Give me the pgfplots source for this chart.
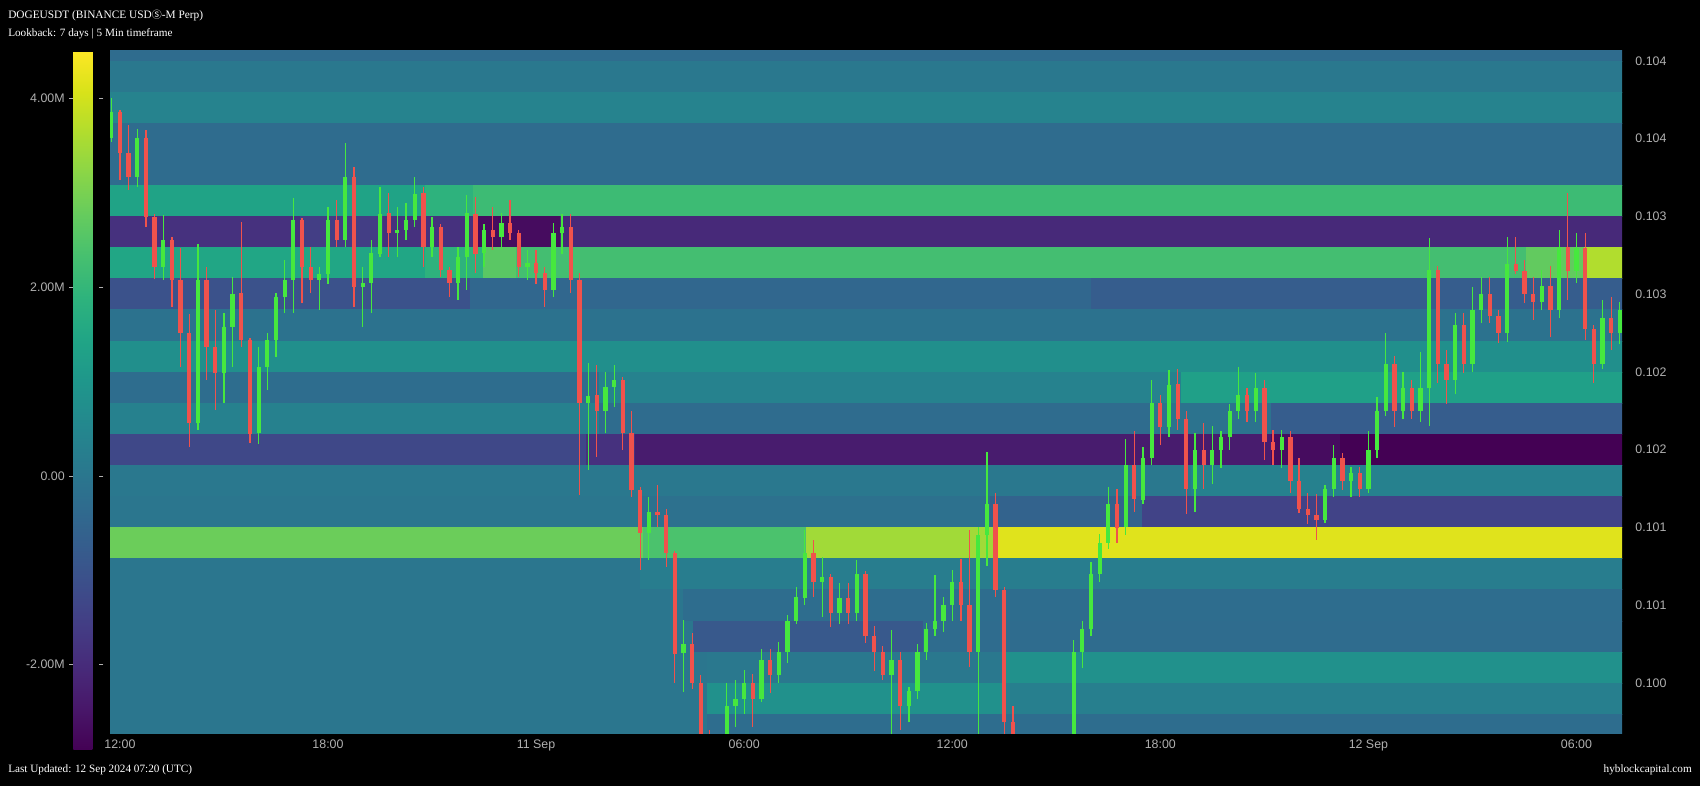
\documentclass[border=0pt]{standalone}
\usepackage{fontspec}
\setmainfont{Liberation Serif}
\newfontfamily\arialf{Liberation Sans}
\newfontfamily\cjk{Noto Sans CJK SC}
\usepackage{pgfplots}
\usepackage{pgfplotstable}
\pgfplotsset{compat=1.18}
\definecolor{cgreen}{HTML}{46E83E}
\definecolor{cred}{HTML}{F0524C}
\definecolor{tickgray}{HTML}{B0B0B0}

\begin{document}
% heatmap cells: 4 corners per rectangle, m = liquidation value (M)
\pgfplotstableread[row sep=\\]{
x y m\\
11.6 0.1040 -0.312\\ 55.4 0.1040 -0.312\\ 55.4 0.1042 -0.312\\ 11.6 0.1042 -0.312\\
11.6 0.1038 0.059\\ 55.4 0.1038 0.059\\ 55.4 0.1040 0.059\\ 11.6 0.1040 0.059\\
11.6 0.1036 0.392\\ 55.4 0.1036 0.392\\ 55.4 0.1038 0.392\\ 11.6 0.1038 0.392\\
11.6 0.1032 -0.312\\ 55.4 0.1032 -0.312\\ 55.4 0.1036 -0.312\\ 11.6 0.1036 -0.312\\
11.6 0.1030 1.393\\ 20.80 0.1030 1.393\\ 20.80 0.1032 1.393\\ 11.6 0.1032 1.393\\
20.80 0.1030 1.875\\ 22.18 0.1030 1.875\\ 22.18 0.1032 1.875\\ 20.80 0.1032 1.875\\
22.18 0.1030 2.171\\ 55.4 0.1030 2.171\\ 55.4 0.1032 2.171\\ 22.18 0.1032 2.171\\
11.6 0.1028 -1.868\\ 17.19 0.1028 -1.868\\ 17.19 0.1030 -1.868\\ 11.6 0.1030 -1.868\\
17.19 0.1028 -1.572\\ 19.59 0.1028 -1.572\\ 19.59 0.1030 -1.572\\ 17.19 0.1030 -1.572\\
19.59 0.1028 -1.868\\ 22.30 0.1028 -1.868\\ 22.30 0.1030 -1.868\\ 19.59 0.1030 -1.868\\
22.30 0.1028 -2.684\\ 24.71 0.1028 -2.684\\ 24.71 0.1030 -2.684\\ 22.30 0.1030 -2.684\\
24.71 0.1028 -2.054\\ 55.4 0.1028 -2.054\\ 55.4 0.1030 -2.054\\ 24.71 0.1030 -2.054\\
11.6 0.1026 1.467\\ 20.80 0.1026 1.467\\ 20.80 0.1028 1.467\\ 11.6 0.1028 1.467\\
20.80 0.1026 1.875\\ 22.48 0.1026 1.875\\ 22.48 0.1028 1.875\\ 20.80 0.1028 1.875\\
22.48 0.1026 2.616\\ 23.42 0.1026 2.616\\ 23.42 0.1028 2.616\\ 22.48 0.1028 2.616\\
23.42 0.1026 2.283\\ 52.56 0.1026 2.283\\ 52.56 0.1028 2.283\\ 23.42 0.1028 2.283\\
52.56 0.1026 2.727\\ 54.22 0.1026 2.727\\ 54.22 0.1028 2.727\\ 52.56 0.1028 2.727\\
54.22 0.1026 3.654\\ 55.4 0.1026 3.654\\ 55.4 0.1028 3.654\\ 54.22 0.1028 3.654\\
11.6 0.1024 -1.054\\ 22.10 0.1024 -1.054\\ 22.10 0.1026 -1.054\\ 11.6 0.1026 -1.054\\
22.10 0.1024 -0.460\\ 40.00 0.1024 -0.460\\ 40.00 0.1026 -0.460\\ 22.10 0.1026 -0.460\\
40.00 0.1024 -0.757\\ 55.4 0.1024 -0.757\\ 55.4 0.1026 -0.757\\ 40.00 0.1026 -0.757\\
11.6 0.1022 -0.127\\ 55.4 0.1022 -0.127\\ 55.4 0.1024 -0.127\\ 11.6 0.1024 -0.127\\
11.6 0.1020 0.763\\ 55.4 0.1020 0.763\\ 55.4 0.1022 0.763\\ 11.6 0.1022 0.763\\
11.6 0.1018 -0.275\\ 25.83 0.1018 -0.275\\ 25.83 0.1020 -0.275\\ 11.6 0.1020 -0.275\\
25.83 0.1018 0.355\\ 42.59 0.1018 0.355\\ 42.59 0.1020 0.355\\ 25.83 0.1020 0.355\\
42.59 0.1018 1.282\\ 55.4 0.1018 1.282\\ 55.4 0.1020 1.282\\ 42.59 0.1020 1.282\\
11.6 0.1016 0.318\\ 25.83 0.1016 0.318\\ 25.83 0.1018 0.318\\ 11.6 0.1018 0.318\\
25.83 0.1016 -0.312\\ 41.70 0.1016 -0.312\\ 41.70 0.1018 -0.312\\ 25.83 0.1018 -0.312\\
41.70 0.1016 -0.090\\ 45.20 0.1016 -0.090\\ 45.20 0.1018 -0.090\\ 41.70 0.1018 -0.090\\
45.20 0.1016 -0.757\\ 55.4 0.1016 -0.757\\ 55.4 0.1018 -0.757\\ 45.20 0.1018 -0.757\\
11.6 0.1014 -1.312\\ 25.44 0.1014 -1.312\\ 25.44 0.1016 -1.312\\ 11.6 0.1016 -1.312\\
25.44 0.1014 -1.868\\ 26.85 0.1014 -1.868\\ 26.85 0.1016 -1.868\\ 25.44 0.1016 -1.868\\
26.85 0.1014 -2.350\\ 45.20 0.1014 -2.350\\ 45.20 0.1016 -2.350\\ 26.85 0.1016 -2.350\\
45.20 0.1014 -2.684\\ 47.20 0.1014 -2.684\\ 47.20 0.1016 -2.684\\ 45.20 0.1016 -2.684\\
47.20 0.1014 -2.906\\ 55.4 0.1014 -2.906\\ 55.4 0.1016 -2.906\\ 47.20 0.1016 -2.906\\
11.6 0.1012 0.059\\ 42.90 0.1012 0.059\\ 42.90 0.1014 0.059\\ 11.6 0.1014 0.059\\
42.90 0.1012 0.318\\ 55.4 0.1012 0.318\\ 55.4 0.1014 0.318\\ 42.90 0.1014 0.318\\
11.6 0.1010 -0.015\\ 26.99 0.1010 -0.015\\ 26.99 0.1012 -0.015\\ 11.6 0.1012 -0.015\\
26.99 0.1010 -0.164\\ 37.10 0.1010 -0.164\\ 37.10 0.1012 -0.164\\ 26.99 0.1012 -0.164\\
37.10 0.1010 -0.571\\ 41.49 0.1010 -0.571\\ 41.49 0.1012 -0.571\\ 37.10 0.1012 -0.571\\
41.49 0.1010 -1.424\\ 55.4 0.1010 -1.424\\ 55.4 0.1012 -1.424\\ 41.49 0.1012 -1.424\\
11.6 0.1008 2.838\\ 27.08 0.1008 2.838\\ 27.08 0.1010 2.838\\ 11.6 0.1010 2.838\\
27.08 0.1008 2.394\\ 31.80 0.1008 2.394\\ 31.80 0.1010 2.394\\ 27.08 0.1010 2.394\\
31.80 0.1008 3.468\\ 37.30 0.1008 3.468\\ 37.30 0.1010 3.468\\ 31.80 0.1010 3.468\\
37.30 0.1008 4.173\\ 55.4 0.1008 4.173\\ 55.4 0.1010 4.173\\ 37.30 0.1010 4.173\\
11.6 0.1006 -0.015\\ 26.99 0.1006 -0.015\\ 26.99 0.1008 -0.015\\ 11.6 0.1008 -0.015\\
26.99 0.1006 0.207\\ 55.4 0.1006 0.207\\ 55.4 0.1008 0.207\\ 26.99 0.1008 0.207\\
11.6 0.1004 -0.015\\ 28.24 0.1004 -0.015\\ 28.24 0.1006 -0.015\\ 11.6 0.1006 -0.015\\
28.24 0.1004 -0.275\\ 55.4 0.1004 -0.275\\ 55.4 0.1006 -0.275\\ 28.24 0.1006 -0.275\\
11.6 0.1002 -0.015\\ 28.52 0.1002 -0.015\\ 28.52 0.1004 -0.015\\ 11.6 0.1004 -0.015\\
28.52 0.1002 -0.868\\ 35.15 0.1002 -0.868\\ 35.15 0.1004 -0.868\\ 28.52 0.1004 -0.868\\
35.15 0.1002 -0.312\\ 55.4 0.1002 -0.312\\ 55.4 0.1004 -0.312\\ 35.15 0.1004 -0.312\\
11.6 0.1000 -0.015\\ 28.93 0.1000 -0.015\\ 28.93 0.1002 -0.015\\ 11.6 0.1002 -0.015\\
28.93 0.1000 0.059\\ 37.46 0.1000 0.059\\ 37.46 0.1002 0.059\\ 28.93 0.1002 0.059\\
37.46 0.1000 0.837\\ 55.4 0.1000 0.837\\ 55.4 0.1002 0.837\\ 37.46 0.1002 0.837\\
11.6 0.0998 -0.015\\ 28.93 0.0998 -0.015\\ 28.93 0.1000 -0.015\\ 11.6 0.1000 -0.015\\
28.93 0.0998 0.837\\ 37.46 0.0998 0.837\\ 37.46 0.1000 0.837\\ 28.93 0.1000 0.837\\
37.46 0.0998 0.281\\ 55.4 0.0998 0.281\\ 55.4 0.1000 0.281\\ 37.46 0.1000 0.281\\
11.6 0.0996 -0.015\\ 28.93 0.0996 -0.015\\ 28.93 0.0998 -0.015\\ 11.6 0.0998 -0.015\\
28.93 0.0996 -0.275\\ 55.4 0.0996 -0.275\\ 55.4 0.0998 -0.275\\ 28.93 0.0998 -0.275\\
}\heat

% 15 min candles, t = hours since 10 Sep 00:00
\pgfplotstableread{
t o h l c
11.75 0.103503 0.103760 0.103481 0.103674
12.00 0.103674 0.103685 0.103235 0.103406
12.25 0.103406 0.103589 0.103170 0.103256
12.50 0.103256 0.103567 0.103192 0.103503
12.75 0.103503 0.103556 0.102935 0.102999
13.00 0.102999 0.103020 0.102602 0.102677
13.25 0.102677 0.103010 0.102592 0.102849
13.50 0.102849 0.102870 0.102420 0.102592
13.75 0.102592 0.102795 0.102034 0.102249
14.00 0.102249 0.102377 0.101520 0.101670
14.25 0.101670 0.102827 0.101627 0.102592
14.50 0.102592 0.102677 0.101948 0.102163
14.75 0.102163 0.102399 0.101755 0.101991
15.00 0.101991 0.102377 0.101798 0.102291
15.25 0.102291 0.102613 0.102034 0.102506
15.50 0.102506 0.102967 0.102163 0.102206
15.75 0.102206 0.102220 0.101541 0.101605
16.00 0.101605 0.102163 0.101541 0.102034
16.25 0.102034 0.102249 0.101884 0.102206
16.50 0.102206 0.102506 0.102098 0.102484
16.75 0.102484 0.102720 0.102377 0.102592
17.00 0.102592 0.103117 0.102377 0.102978
17.25 0.102978 0.102990 0.102442 0.102677
17.50 0.102677 0.102806 0.102506 0.102592
17.75 0.102592 0.102677 0.102399 0.102634
18.00 0.102634 0.103063 0.102570 0.102978
18.25 0.102978 0.103106 0.102806 0.102849
18.50 0.102849 0.103471 0.102806 0.103256
18.75 0.103256 0.103321 0.102420 0.102549
19.00 0.102549 0.102677 0.102291 0.102570
19.25 0.102570 0.102849 0.102377 0.102763
19.50 0.102763 0.103192 0.102742 0.103020
19.75 0.103020 0.103149 0.102742 0.102892
20.00 0.102892 0.103063 0.102742 0.102913
20.25 0.102913 0.103085 0.102849 0.102978
20.50 0.102978 0.103256 0.102935 0.103149
20.75 0.103149 0.103192 0.102677 0.102806
21.00 0.102806 0.102999 0.102742 0.102935
21.25 0.102935 0.102956 0.102613 0.102656
21.50 0.102656 0.102677 0.102484 0.102570
21.75 0.102570 0.102806 0.102463 0.102742
22.00 0.102742 0.103138 0.102527 0.103020
22.25 0.103020 0.103128 0.102634 0.102763
22.50 0.102763 0.102956 0.102677 0.102913
22.75 0.102913 0.103063 0.102785 0.102870
23.00 0.102870 0.103020 0.102785 0.102956
23.25 0.102956 0.103106 0.102849 0.102892
23.50 0.102892 0.102913 0.102613 0.102677
23.75 0.102677 0.102785 0.102592 0.102699
24.00 0.102699 0.102785 0.102570 0.102634
24.25 0.102634 0.102677 0.102420 0.102527
24.50 0.102527 0.102956 0.102484 0.102892
24.75 0.102892 0.103020 0.102763 0.102935
25.00 0.102935 0.103020 0.102506 0.102592
25.25 0.102592 0.102640 0.101209 0.101799
25.50 0.101799 0.102056 0.101370 0.101850
25.75 0.101850 0.102045 0.101456 0.101750
26.00 0.101750 0.102000 0.101610 0.101906
26.25 0.101906 0.102045 0.101777 0.101950
26.50 0.101950 0.101970 0.101499 0.101606
26.75 0.101606 0.101750 0.101200 0.101241
27.00 0.101241 0.101260 0.100727 0.100963
27.25 0.100963 0.101198 0.100791 0.101100
27.50 0.101100 0.101273 0.101005 0.101080
27.75 0.101080 0.101120 0.100748 0.100834
28.00 0.100834 0.100850 0.099998 0.100190
28.25 0.100190 0.100405 0.099944 0.100250
28.50 0.100250 0.100320 0.099960 0.100000
28.75 0.100000 0.100050 0.099500 0.099650
29.00 0.099650 0.099700 0.099300 0.099450
29.25 0.099450 0.099620 0.099250 0.099550
29.50 0.099550 0.100000 0.099400 0.099850
29.75 0.099850 0.100020 0.099720 0.099900
30.00 0.099900 0.100084 0.099800 0.100000
30.25 0.100000 0.100060 0.099719 0.099900
30.50 0.099900 0.100220 0.099880 0.100150
30.75 0.100150 0.100220 0.099933 0.100050
31.00 0.100050 0.100266 0.100000 0.100200
31.25 0.100200 0.100437 0.100130 0.100400
31.50 0.100400 0.100620 0.100380 0.100550
31.75 0.100550 0.100984 0.100500 0.100834
32.00 0.100834 0.100920 0.100555 0.100650
32.25 0.100650 0.100812 0.100426 0.100680
32.50 0.100680 0.100700 0.100362 0.100450
32.75 0.100450 0.100641 0.100380 0.100550
33.00 0.100550 0.100641 0.100380 0.100450
33.25 0.100450 0.100791 0.100400 0.100700
33.50 0.100700 0.100720 0.100255 0.100300
33.75 0.100300 0.100370 0.100080 0.100200
34.00 0.100200 0.100240 0.100019 0.100050
34.25 0.100050 0.100341 0.099650 0.100150
34.50 0.100150 0.100200 0.099700 0.099850
34.75 0.099850 0.099976 0.099750 0.099950
35.00 0.099950 0.100250 0.099900 0.100200
35.25 0.100200 0.100384 0.100150 0.100350
35.50 0.100350 0.100695 0.100300 0.100400
35.75 0.100400 0.100555 0.100330 0.100500
36.00 0.100500 0.100727 0.100400 0.100650
36.25 0.100650 0.100800 0.100400 0.100500
36.50 0.100500 0.100984 0.100100 0.100200
36.75 0.100200 0.101000 0.099650 0.100950
37.00 0.100950 0.101487 0.100750 0.101150
37.25 0.101150 0.101220 0.100550 0.100600
37.50 0.100600 0.100620 0.099500 0.099750
37.75 0.099750 0.099850 0.099400 0.099500
38.00 0.099500 0.099600 0.099250 0.099400
38.25 0.099400 0.099550 0.099200 0.099450
38.50 0.099450 0.099580 0.099250 0.099350
38.75 0.099350 0.099550 0.099200 0.099500
39.00 0.099500 0.099620 0.099350 0.099550
39.25 0.099550 0.099640 0.099400 0.099500
39.50 0.099500 0.100277 0.099450 0.100200
39.75 0.100200 0.100400 0.100100 0.100350
40.00 0.100350 0.100780 0.100300 0.100700
40.25 0.100700 0.100960 0.100650 0.100900
40.50 0.100900 0.101262 0.100860 0.101150
40.75 0.101150 0.101250 0.100898 0.101000
41.00 0.101000 0.101573 0.100950 0.101400
41.25 0.101400 0.101620 0.101101 0.101180
41.50 0.101180 0.101520 0.101150 0.101450
41.75 0.101450 0.101948 0.101400 0.101800
42.00 0.101800 0.101850 0.101530 0.101650
42.25 0.101650 0.102013 0.101580 0.101920
42.50 0.101920 0.102020 0.101630 0.101700
42.75 0.101700 0.101750 0.101090 0.101250
43.00 0.101250 0.101605 0.101100 0.101500
43.25 0.101500 0.101670 0.101250 0.101400
43.50 0.101400 0.101650 0.101280 0.101500
43.75 0.101500 0.101620 0.101380 0.101580
44.00 0.101580 0.101798 0.101500 0.101750
44.25 0.101750 0.102030 0.101700 0.101850
44.50 0.101850 0.101900 0.101680 0.101750
44.75 0.101750 0.101995 0.101680 0.101900
45.00 0.101900 0.101950 0.101434 0.101550
45.25 0.101550 0.101630 0.101400 0.101500
45.50 0.101500 0.101630 0.101380 0.101580
45.75 0.101580 0.101620 0.101219 0.101300
46.00 0.101300 0.101450 0.101090 0.101120
46.25 0.101120 0.101220 0.101026 0.101080
46.50 0.101080 0.101220 0.100919 0.101050
46.75 0.101050 0.101273 0.101030 0.101250
47.00 0.101250 0.101530 0.101200 0.101450
47.25 0.101450 0.101480 0.101240 0.101300
47.50 0.101300 0.101390 0.101200 0.101350
47.75 0.101350 0.101390 0.101200 0.101250
48.00 0.101250 0.101620 0.101220 0.101500
48.25 0.101500 0.101841 0.101450 0.101750
48.50 0.101750 0.102248 0.101720 0.102050
48.75 0.102050 0.102100 0.101648 0.101750
49.00 0.101750 0.102000 0.101700 0.101900
49.25 0.101900 0.101950 0.101700 0.101750
49.50 0.101750 0.102131 0.101680 0.101900
49.75 0.101900 0.102859 0.101650 0.102656
50.00 0.102656 0.102680 0.101927 0.102050
50.25 0.102050 0.102140 0.101798 0.101950
50.50 0.101950 0.102377 0.101860 0.102300
50.75 0.102300 0.102380 0.101991 0.102050
51.00 0.102050 0.102549 0.102000 0.102400
51.25 0.102400 0.102613 0.102313 0.102500
51.50 0.102500 0.102613 0.102313 0.102360
51.75 0.102360 0.102400 0.102184 0.102250
52.00 0.102250 0.102870 0.102190 0.102699
52.25 0.102699 0.102870 0.102634 0.102650
52.50 0.102650 0.102720 0.102441 0.102500
52.75 0.102500 0.102613 0.102334 0.102450
53.00 0.102450 0.102656 0.102398 0.102550
53.25 0.102550 0.102680 0.102227 0.102400
53.50 0.102400 0.102913 0.102350 0.102806
53.75 0.102806 0.103150 0.102463 0.102650
54.00 0.102650 0.102892 0.102570 0.102800
54.25 0.102800 0.102892 0.102206 0.102280
54.50 0.102280 0.102300 0.101927 0.102050
54.75 0.102050 0.102463 0.102020 0.102350
55.00 0.102350 0.102480 0.102141 0.102250
55.25 0.102250 0.102450 0.102180 0.102400
}\candles

\begin{tikzpicture}
\useasboundingbox (0,0) rectangle (1275pt,589.5pt);
\fill[black] (0,0) rectangle (1275pt,589.5pt);

\node[anchor=base west, inner sep=0pt, text=white, font=\fontsize{8.5}{10}\selectfont]
  at (6pt,575.5pt) {DOGEUSDT (BINANCE USD{\cjk\fontsize{7.5}{9}\selectfont Ⓢ}-M Perp)};
\node[anchor=base west, inner sep=0pt, text=white, font=\fontsize{8.4}{10}\selectfont]
  at (6pt,562.4pt) {Lookback: 7 days | 5 Min timeframe};
\node[anchor=base west, inner sep=0pt, text=white, font=\fontsize{8.4}{10}\selectfont]
  at (6pt,10pt) {Last Updated: 12 Sep 2024 07:20 (UTC)};
\node[anchor=base east, inner sep=0pt, text=white, font=\fontsize{8.4}{10}\selectfont]
  at (1269pt,10pt) {hyblockcapital.com};

\begin{axis}[
  at={(82.5pt,39pt)}, anchor=south west,
  scale only axis, width=1134pt, height=512.25pt,
  xmin=11.714, xmax=55.313, ymin=0.099672, ymax=0.104064,
  axis line style={draw=none}, tick style={draw=none},
  major tick length=0pt,
  xtick={12,18,24,30,36,42,48,54},
  xticklabels={12:00,18:00,11 Sep,06:00,12:00,18:00,12 Sep,06:00},
  ytick={0.1000,0.1005,0.1010,0.1015,0.1020,0.1025,0.1030,0.1035,0.1040},
  yticklabels={0.100,0.101,0.101,0.102,0.102,0.103,0.103,0.104,0.104},
  scaled y ticks=false, scaled x ticks=false,
  yticklabel pos=right,
  yticklabel style={anchor=west, xshift=6.5pt},
  xticklabel style={yshift=-1pt},
  tick label style={font=\arialf\fontsize{9.3}{11}\selectfont, text=tickgray},
  colormap/viridis,
  point meta min=-2.906, point meta max=4.506,
  colorbar,
  colorbar style={
    scale only axis, width=19.5pt, height=524.25pt,
    at={(parent axis.north west)}, anchor=north east, xshift=-16.5pt,
    axis line style={draw=none},
    xtick=\empty,
    ytick={-2,0,2,4},
    yticklabels={-2.00M,0.00,2.00M,4.00M},
    scaled y ticks=false,
    yticklabel pos=left,
    tick align=outside, major tick length=3pt,
    ytick style={draw=tickgray, line width=0.5pt},
    yticklabel style={font=\arialf\fontsize{9.3}{11}\selectfont, text=tickgray},
  },
  candle/.style={only marks, mark=*, mark size=0pt,
    mark options={draw opacity=0, fill opacity=0}, forget plot},
]
\addplot[patch, patch type=rectangle, shader=faceted, faceted color=mapped color,
  point meta=explicit] table[x=x, y=y, meta=m] {\heat};

% wicks
\addplot[candle,
  restrict expr to domain={\thisrow{c}-\thisrow{o}}{0:1},
  error bars/.cd, y dir=both, y explicit, error mark=none,
  error bar style={line width=0.9pt, draw=cgreen}]
  table[x=t, y expr={(\thisrow{h}+\thisrow{l})/2}, y error expr={(\thisrow{h}-\thisrow{l})/2}] {\candles};
\addplot[candle,
  restrict expr to domain={\thisrow{c}-\thisrow{o}}{-1:-0.0000001},
  error bars/.cd, y dir=both, y explicit, error mark=none,
  error bar style={line width=0.9pt, draw=cred}]
  table[x=t, y expr={(\thisrow{h}+\thisrow{l})/2}, y error expr={(\thisrow{h}-\thisrow{l})/2}] {\candles};
% bodies
\addplot[candle,
  restrict expr to domain={\thisrow{c}-\thisrow{o}}{0:1},
  error bars/.cd, y dir=both, y explicit, error mark=none,
  error bar style={line width=3.2pt, draw=cgreen}]
  table[x=t, y expr={(\thisrow{o}+\thisrow{c})/2}, y error expr={abs(\thisrow{c}-\thisrow{o})/2}] {\candles};
\addplot[candle,
  restrict expr to domain={\thisrow{c}-\thisrow{o}}{-1:-0.0000001},
  error bars/.cd, y dir=both, y explicit, error mark=none,
  error bar style={line width=3.2pt, draw=cred}]
  table[x=t, y expr={(\thisrow{o}+\thisrow{c})/2}, y error expr={abs(\thisrow{c}-\thisrow{o})/2}] {\candles};
\end{axis}
\end{tikzpicture}
\end{document}
